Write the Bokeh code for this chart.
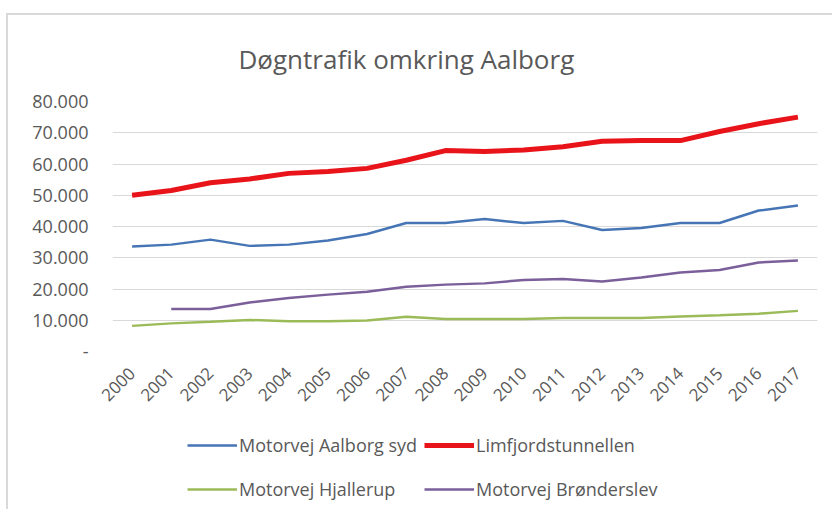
import math
from bokeh.plotting import figure
from bokeh.layouts import column
from bokeh.models import Legend, LegendItem, FixedTicker, Range1d
from bokeh.embed import file_html
from bokeh.resources import INLINE

years = list(range(2000, 2018))
aalborg_syd = [33600, 34200, 35800, 33800, 34200, 35500, 37600, 41100, 41100, 42400,
               41100, 41800, 38900, 39500, 41100, 41100, 45100, 46700]
limfjord = [50000, 51500, 54000, 55200, 57000, 57600, 58600, 61200, 64300, 64000,
            64500, 65500, 67300, 67500, 67500, 70400, 72900, 75000]
hjallerup = [8200, 9000, 9500, 10100, 9700, 9700, 9900, 11100, 10400, 10400,
             10400, 10700, 10700, 10700, 11200, 11600, 12100, 13000]
bronderslev = [float("nan"), 13600, 13600, 15700, 17100, 18200, 19100, 20700, 21400, 21800,
               22900, 23200, 22400, 23700, 25300, 26100, 28500, 29100]
y_ticks = [0, 10000, 20000, 30000, 40000, 50000, 60000, 70000, 80000]
y_labels = ["-", "10.000", "20.000", "30.000", "40.000", "50.000", "60.000", "70.000", "80.000"]
title_text = "Døgntrafik omkring Aalborg"
series = [
    ("Motorvej Aalborg syd", aalborg_syd, "#4675b5", 2.5),
    ("Limfjordstunnellen", limfjord, "#e8141a", 5),
    ("Motorvej Hjallerup", hjallerup, "#9bbb59", 2.5),
    ("Motorvej Brønderslev", bronderslev, "#7a5f9a", 2.5),
]

FONT = "Open Sans"
TXT = "#595959"

p = figure(width=826, height=400, output_backend="svg", toolbar_location=None,
           x_range=Range1d(1999.5, 2017.5), y_range=Range1d(0, 80000),
           min_border_left=104, min_border_right=17, min_border_top=86, min_border_bottom=64)
p.outline_line_color = None
p.background_fill_color = "white"
p.border_fill_color = "white"

p.title.text = title_text
p.title.align = "left"
p.title.offset = 126
p.title.text_font = FONT
p.title.text_font_size = "26px"
p.title.text_font_style = "normal"
p.title.text_color = TXT
p.title.vertical_align = "top"
p.title.standoff = 46

p.xgrid.grid_line_color = None
p.ygrid.grid_line_color = "#d9d9d9"
p.ygrid.grid_line_width = 1

p.yaxis.ticker = FixedTicker(ticks=y_ticks)
p.yaxis.major_label_overrides = {t: l for t, l in zip(y_ticks, y_labels)}
p.xaxis.ticker = FixedTicker(ticks=years)
p.xaxis.major_label_overrides = {y: str(y) for y in years}
for ax in (p.xaxis[0], p.yaxis[0]):
    ax.axis_line_color = None
    ax.major_tick_line_color = None
    ax.minor_tick_line_color = None
    ax.major_tick_out = 0
    ax.major_tick_in = 0
    ax.major_label_text_color = TXT
    ax.major_label_text_font = FONT
p.yaxis.major_label_text_font_size = "18px"
p.yaxis.major_label_standoff = 24
p.xaxis.major_label_text_font_size = "17px"
p.xaxis.major_label_orientation = math.pi / 4
p.xaxis.major_label_standoff = 19

for name, vals, color, lw in series:
    p.line(years, vals, line_color=color, line_width=lw)

# legend strip below the chart (same series, used only for the legend keys)
q = figure(width=826, height=96, output_backend="svg", toolbar_location=None,
           x_range=Range1d(1999.5, 2017.5), y_range=Range1d(0, 80000),
           min_border_left=0, min_border_right=0, min_border_top=0, min_border_bottom=0)
q.axis.visible = False
q.grid.visible = False
q.outline_line_color = None
q.background_fill_color = "white"
q.border_fill_color = "white"
items = {}
for name, vals, color, lw in series:
    r = q.line(years, vals, line_color=color, line_width=lw, visible=False)
    items[name] = LegendItem(label=name, renderers=[r])

legend = Legend(items=[items["Motorvej Aalborg syd"], items["Motorvej Hjallerup"],
                       items["Limfjordstunnellen"], items["Motorvej Brønderslev"]],
                location=(75, 2), orientation="vertical", ncols=2,
                label_text_font=FONT, label_text_font_size="18px", label_text_color=TXT,
                glyph_width=50, glyph_height=40, label_standoff=2, spacing=4,
                label_width=181, padding=0, margin=0, border_line_color=None,
                background_fill_alpha=0)
q.add_layout(legend)

layout = column(p, q, spacing=0, margin=(13, 0, 0, 6))
layout.styles = {"border-top": "2px solid #d9d9d9", "border-left": "2px solid #d9d9d9"}

open("out.html", "w").write(file_html(layout, INLINE))
